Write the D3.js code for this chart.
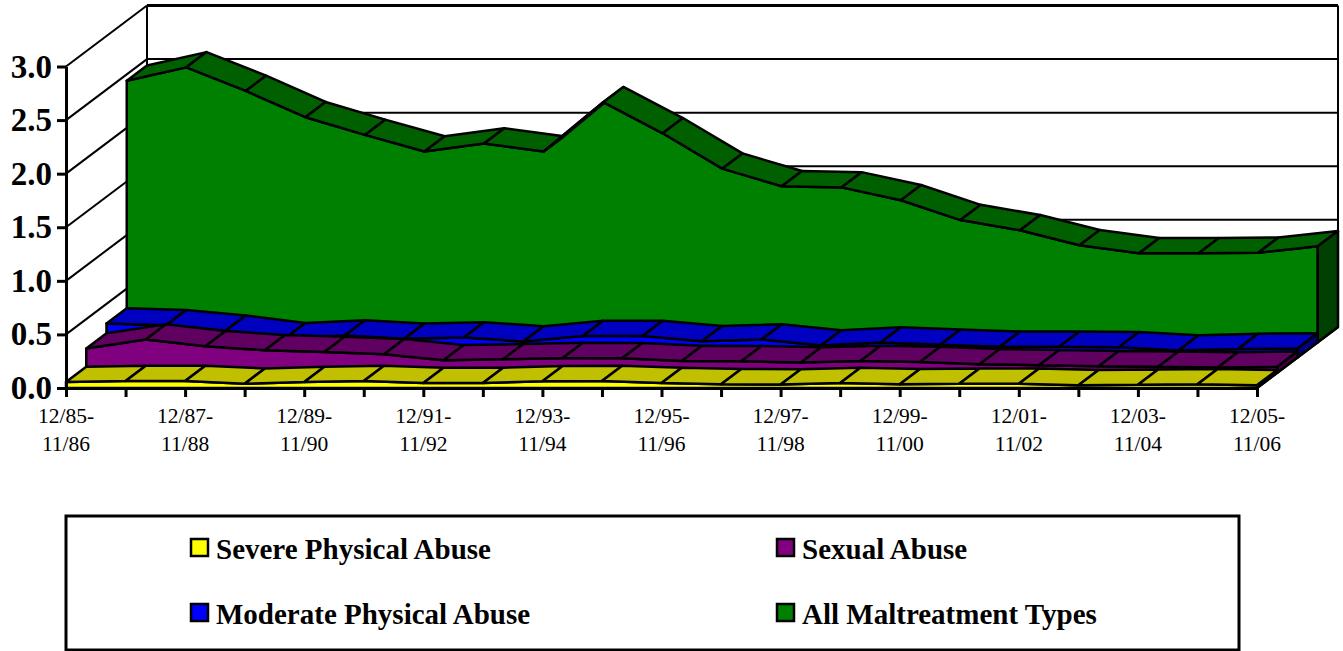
<!DOCTYPE html>
<html>
<head>
<meta charset="utf-8">
<script src="https://cdnjs.cloudflare.com/ajax/libs/d3/7.8.5/d3.min.js"></script>
<style>
body { margin: 0; background: #fff; overflow: hidden; }
text { font-family: "Liberation Serif", serif; fill: #000; }
</style>
</head>
<body>
<div id="chart"></div>
<script>
// Values
const periods = ["12/85-11/86","12/86-11/87","12/87-11/88","12/88-11/89","12/89-11/90","12/90-11/91","12/91-11/92",
    "12/92-11/93","12/93-11/94","12/94-11/95","12/95-11/96","12/96-11/97","12/97-11/98","12/98-11/99",
    "12/99-11/00","12/00-11/01","12/01-11/02","12/02-11/03","12/03-11/04","12/04-11/05","12/05-11/06"];
const severe = [.056,.065,.065,.04,.056,.065,.047,.047,.062,.065,.047,.035,.032,.047,.035,.04,.04,.025,.03,.035,.025];
const sexual = [.226,.31,.247,.21,.194,.173,.117,.126,.138,.135,.11,.107,.095,.11,.1,.08,.07,.06,.055,.05,.055];
const moderate = [.317,.30,.25,.18,.205,.175,.187,.15,.2,.2,.152,.168,.112,.14,.12,.1,.1,.096,.065,.08,.083];
const allTypes = [2.44,2.565,2.345,2.10,1.935,1.78,1.855,1.78,2.24,1.95,1.62,1.455,1.445,1.325,1.14,1.045,.905,.83,.83,.835,.895];
const yTicks = [0, .5, 1, 1.5, 2, 2.5, 3];

// drawn back to front
const series = [
    { name: "All Maltreatment Types", values: allTypes, slot: 3, front: "#008000", top: "#006000", side: "#004000" },
    { name: "Moderate Physical Abuse", values: moderate, slot: 2, front: "#0000ff", top: "#0000c0", side: "#000080" },
    { name: "Sexual Abuse", values: sexual, slot: 1, front: "#800080", top: "#600060", side: "#400040" },
    { name: "Severe Physical Abuse", values: severe, slot: 0, front: "#ffff00", top: "#c0c000", side: "#808000" }
];
const legendOrder = [
    { name: "Severe Physical Abuse", color: "#ffff00", col: 0, row: 0 },
    { name: "Sexual Abuse", color: "#800080", col: 1, row: 0 },
    { name: "Moderate Physical Abuse", color: "#0000ff", col: 0, row: 1 },
    { name: "All Maltreatment Types", color: "#008000", col: 1, row: 1 }
];

const width = 1343, height = 651;
const plot = { left: 66, right: 1257, bottom: 388, top: 66.5 };
// depth of one series slab
const dx = 20.25, dy = -15.25;

const x = d3.scalePoint().domain(periods).range([plot.left, plot.right]);
const y = d3.scaleLinear().domain([0, 3]).range([plot.bottom, plot.top]);

const svg = d3.select("#chart").append("svg")
    .attr("width", width)
    .attr("height", height)
    .style("display", "block");

// Walls and gridlines
const wall = svg.append("g").attr("fill", "none").attr("stroke", "#000");
const backX = plot.left + dx * 4, backDy = dy * 4;
wall.selectAll(".diag").data(yTicks).enter().append("line")
    .attr("class", "diag")
    .attr("x1", plot.left).attr("x2", backX)
    .attr("y1", d => y(d)).attr("y2", d => y(d) + backDy)
    .attr("stroke-width", 2);
wall.selectAll(".grid").data(yTicks).enter().append("line")
    .attr("class", "grid")
    .attr("x1", backX).attr("x2", plot.right + dx * 4)
    .attr("y1", d => y(d) + backDy).attr("y2", d => y(d) + backDy)
    .attr("stroke-width", d => d === 3 ? 3 : 2);
wall.append("line")
    .attr("x1", backX).attr("x2", backX)
    .attr("y1", y(3) + backDy).attr("y2", y(0) + backDy)
    .attr("stroke-width", 2);
wall.append("line")
    .attr("x1", plot.right + dx * 4).attr("x2", plot.right + dx * 4)
    .attr("y1", y(3) + backDy).attr("y2", y(0) + backDy)
    .attr("stroke-width", 2);
wall.append("line")
    .attr("x1", plot.right).attr("x2", plot.right + dx * 4)
    .attr("y1", y(0)).attr("y2", y(0) + backDy)
    .attr("stroke-width", 2.5);

// Draw the slabs
const closed = d3.line().curve(d3.curveLinearClosed);
series.forEach(s => {
    const ox = dx * s.slot, oy = dy * s.slot;
    const g = svg.append("g")
        .attr("transform", `translate(${ox},${oy})`)
        .attr("stroke", "#000")
        .attr("stroke-width", 2.5)
        .attr("stroke-linejoin", "round");

    // front face
    const area = d3.area()
        .x((d, i) => x(periods[i]))
        .y0(y(0))
        .y1(d => y(d));
    g.append("path").attr("d", area(s.values)).attr("fill", s.front);

    // top faces, one per interval
    d3.pairs(s.values).forEach((pair, i) => {
        const x0 = x(periods[i]), x1 = x(periods[i + 1]);
        g.append("path")
            .attr("fill", s.top)
            .attr("d", closed([
                [x0, y(pair[0])], [x1, y(pair[1])],
                [x1 + dx, y(pair[1]) + dy], [x0 + dx, y(pair[0]) + dy]
            ]));
    });

    // end face on the right
    const last = s.values[s.values.length - 1];
    g.append("path")
        .attr("fill", s.side)
        .attr("d", closed([
            [plot.right, y(last)], [plot.right + dx, y(last) + dy],
            [plot.right + dx, y(0) + dy], [plot.right, y(0)]
        ]));
});

// Axes
const yAxis = svg.append("g")
    .attr("transform", `translate(${plot.left},0)`)
    .call(d3.axisLeft(y).tickValues(yTicks).tickFormat(d3.format(".1f")).tickSize(9).tickPadding(5).tickSizeOuter(0));
yAxis.selectAll("path, line").attr("stroke", "#000").attr("stroke-width", 3);
yAxis.selectAll("text")
    .style("font-family", "'Liberation Serif', serif")
    .style("font-size", "33px")
    .style("font-weight", "bold");

const xAxis = svg.append("g")
    .attr("transform", `translate(0,${plot.bottom})`)
    .call(d3.axisBottom(x).tickSize(9).tickSizeOuter(0).tickFormat(""));
xAxis.selectAll("path, line").attr("stroke", "#000").attr("stroke-width", 3);

// Every other period gets a two line label
const labelled = periods.filter((d, i) => i % 2 === 0);
const labels = svg.append("g").selectAll("text").data(labelled).enter().append("text")
    .attr("text-anchor", "middle")
    .style("font-size", "21.5px");
labels.append("tspan")
    .attr("x", d => x(d)).attr("y", 423)
    .text(d => d.split("-")[0] + "-");
labels.append("tspan")
    .attr("x", d => x(d)).attr("y", 451)
    .text(d => d.split("-")[1]);

// Legend
const legend = svg.append("g");
legend.append("rect")
    .attr("x", 66).attr("y", 516)
    .attr("width", 1173).attr("height", 134)
    .attr("fill", "#fff").attr("stroke", "#000").attr("stroke-width", 3);
const legendX = d3.scaleOrdinal().domain([0, 1]).range([191, 777]);
const legendY = d3.scaleOrdinal().domain([0, 1]).range([557, 622]);
const items = legend.selectAll("g").data(legendOrder).enter().append("g")
    .attr("transform", d => `translate(${legendX(d.col)},${legendY(d.row)})`);
items.append("rect")
    .attr("x", 0).attr("y", -18)
    .attr("width", 17).attr("height", 17)
    .attr("fill", d => d.color)
    .attr("stroke", "#000").attr("stroke-width", 2.5);
items.append("text")
    .attr("x", 25).attr("y", 1.5)
    .style("font-size", "29px")
    .style("font-weight", "bold")
    .text(d => d.name);
</script>
</body>
</html>
